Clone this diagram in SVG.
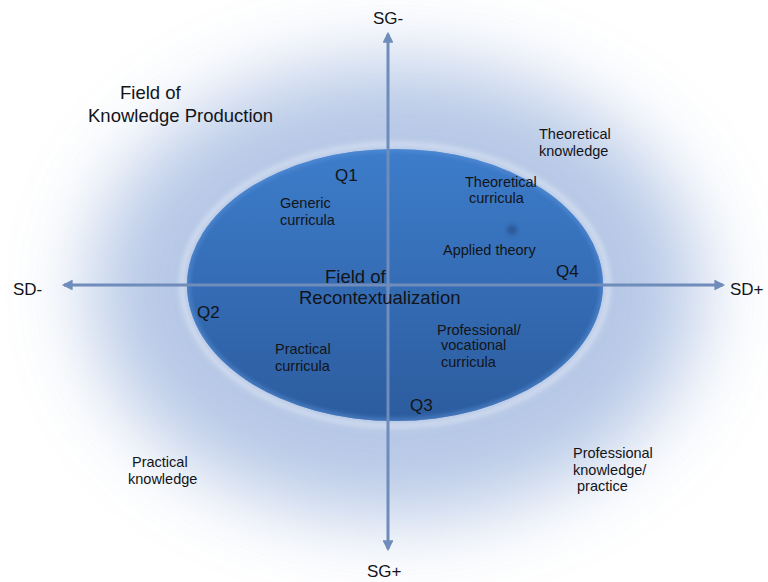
<svg xmlns="http://www.w3.org/2000/svg" width="768" height="582" viewBox="0 0 768 582">
  <style>
    text { font-family: "Liberation Sans", Arial, sans-serif; fill: #121418; }
    .big { font-size: 18.5px; }
    .q { font-size: 17px; }
    .small { font-size: 14.5px; }
    .axis { stroke: #6f8cba; stroke-width: 3; fill: none; marker-end: url(#head); }
  </style>
  <defs>
    <marker id="head" viewBox="0 0 10 10" refX="8" refY="5" markerWidth="4" markerHeight="3.6" orient="auto" markerUnits="strokeWidth">
      <path d="M0,0 L10,5 L0,10 Z" fill="#6f8cba"/>
    </marker>
    <linearGradient id="fieldFill" x1="0" y1="0" x2="0" y2="1">
      <stop offset="0" stop-color="#3d7dcb"/>
      <stop offset="1" stop-color="#2c5c9e"/>
    </linearGradient>
    <filter id="haze" x="-50%" y="-50%" width="200%" height="200%">
      <feGaussianBlur stdDeviation="40"/>
    </filter>
    <filter id="rimBlur" x="-10%" y="-10%" width="120%" height="120%">
      <feGaussianBlur stdDeviation="2.5"/>
    </filter>
    <filter id="dotBlur" x="-100%" y="-100%" width="300%" height="300%">
      <feGaussianBlur stdDeviation="2"/>
    </filter>
    <clipPath id="fieldClip">
      <ellipse cx="395" cy="285" rx="208" ry="136"/>
    </clipPath>
  </defs>

  <rect width="768" height="582" fill="#ffffff"/>

  <!-- soft blue haze around the field of recontextualization -->
  <g id="knowledge-production-haze">
    <ellipse cx="395" cy="290" rx="305" ry="228" fill="#97b0dc" opacity="0.7" filter="url(#haze)"/>
    <ellipse cx="395" cy="285" rx="213" ry="141" fill="none" stroke="#e4ebf6" stroke-width="5" opacity="0.6" filter="url(#rimBlur)"/>
  </g>

  <!-- inner field -->
  <g id="field-of-recontextualization">
    <ellipse cx="395" cy="285" rx="208" ry="136" fill="url(#fieldFill)"/>
    <ellipse cx="395" cy="285" rx="208" ry="136" fill="none" stroke="#5d93da" stroke-width="4" opacity="0.8" clip-path="url(#fieldClip)" filter="url(#rimBlur)"/>
    <ellipse cx="512" cy="230" rx="5" ry="5" fill="#2a5896" filter="url(#dotBlur)"/>
  </g>

  <!-- axes -->
  <g id="axes">
    <line class="axis" x1="388" y1="290" x2="388" y2="34"/>
    <line class="axis" x1="388" y1="285" x2="388" y2="549"/>
    <line class="axis" x1="392" y1="285" x2="64" y2="285"/>
    <line class="axis" x1="388" y1="285" x2="723" y2="285"/>
  </g>

  <g id="axis-labels">
    <text class="q" x="373" y="24">SG-</text>
    <text class="q" x="367" y="577">SG+</text>
    <text class="q" x="13" y="295">SD-</text>
    <text class="q" x="730" y="295">SD+</text>
  </g>

  <g id="outer-labels">
    <text class="big" x="120" y="99">Field of</text>
    <text class="big" x="88" y="122">Knowledge Production</text>
    <text class="small" x="539" y="139">Theoretical</text>
    <text class="small" x="539" y="156">knowledge</text>
    <text class="small" x="132" y="467">Practical</text>
    <text class="small" x="128" y="484">knowledge</text>
    <text class="small" x="573" y="458">Professional</text>
    <text class="small" x="573" y="475">knowledge/</text>
    <text class="small" x="577" y="491">practice</text>
  </g>

  <g id="field-labels">
    <text class="big" x="325" y="283">Field of</text>
    <text class="big" x="299" y="304">Recontextualization</text>
  </g>

  <g id="quadrant-q1">
    <text class="q" x="335" y="181">Q1</text>
    <text class="small" x="280" y="208">Generic</text>
    <text class="small" x="280" y="225">curricula</text>
  </g>

  <g id="quadrant-q2">
    <text class="q" x="197" y="318">Q2</text>
    <text class="small" x="275" y="354">Practical</text>
    <text class="small" x="275" y="371">curricula</text>
  </g>

  <g id="quadrant-q3">
    <text class="q" x="410" y="411">Q3</text>
    <text class="small" x="437" y="335">Professional/</text>
    <text class="small" x="441" y="350">vocational</text>
    <text class="small" x="441" y="367">curricula</text>
  </g>

  <g id="quadrant-q4">
    <text class="q" x="556" y="277">Q4</text>
    <text class="small" x="465" y="187">Theoretical</text>
    <text class="small" x="469" y="203">curricula</text>
    <text class="small" x="443" y="255">Applied theory</text>
  </g>
</svg>
